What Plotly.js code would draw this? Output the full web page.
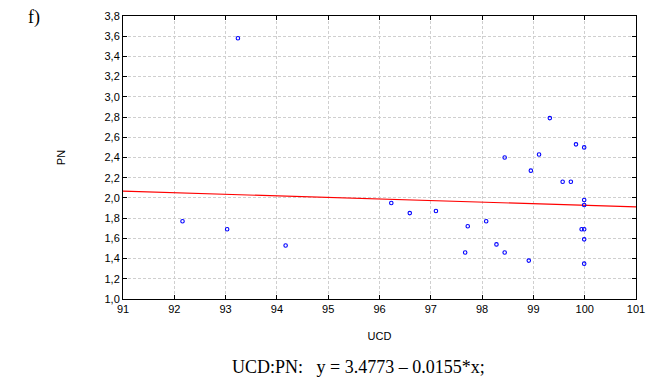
<!DOCTYPE html>
<html>
<head>
<meta charset="utf-8">
<script src="https://cdn.plot.ly/plotly-3.0.1.min.js"></script>
<style>html,body{margin:0;padding:0;background:#fff;}#chart{width:662px;height:382px;}</style>
</head>
<body>
<div id="chart"></div>
<script>
const ucd = [92.16, 93.03, 94.17, 93.24, 99.32, 99.83, 99.99, 98.44, 99.11, 98.95, 99.57, 99.73, 99.99, 99.99, 96.23, 96.59, 97.10, 97.72, 98.08, 97.67, 98.28, 98.44, 98.91, 99.94, 99.99, 99.99, 99.99];
const pn  = [1.77, 1.69, 1.53, 3.58, 2.79, 2.53, 2.50, 2.40, 2.43, 2.27, 2.16, 2.16, 1.98, 1.93, 1.95, 1.85, 1.87, 1.72, 1.77, 1.46, 1.54, 1.46, 1.38, 1.69, 1.69, 1.59, 1.35];
const intercept = 3.4773;
const slope = -0.0155;
const lineX = [91, 101];
const lineY = lineX.map(x => intercept + slope * x);
const xTicks = [91, 92, 93, 94, 95, 96, 97, 98, 99, 100, 101];
const yTicks = [1.0, 1.2, 1.4, 1.6, 1.8, 2.0, 2.2, 2.4, 2.6, 2.8, 3.0, 3.2, 3.4, 3.6, 3.8];

const traces = [
  {x: lineX, y: lineY, mode: 'lines', line: {color: '#ff0000', width: 1.2}, hoverinfo: 'skip'},
  {x: ucd, y: pn, mode: 'markers', marker: {symbol: 'circle-open', size: 3.5, color: '#0000ff', line: {width: 1.1, color: '#0000ff'}}}
];

const axisCommon = {
  showline: true, linecolor: '#000', linewidth: 1, mirror: 'ticks',
  ticks: 'inside', ticklen: 4, tickcolor: '#000',
  showgrid: true, gridcolor: '#cfcfcf', griddash: '3px,2px', gridwidth: 1,
  zeroline: false,
  tickfont: {family: 'Liberation Sans, Arial, sans-serif', size: 11, color: '#000'}
};

const layout = {
  width: 662, height: 382,
  margin: {l: 123, r: 26, t: 16, b: 83},
  paper_bgcolor: '#fff', plot_bgcolor: '#fff',
  showlegend: false,
  separators: ',.',
  xaxis: Object.assign({}, axisCommon, {
    range: [91, 101], tickvals: xTicks, ticktext: xTicks.map(String),
    title: {text: 'UCD', font: {family: 'Liberation Sans, Arial, sans-serif', size: 11, color: '#000'}, standoff: 18}
  }),
  yaxis: Object.assign({}, axisCommon, {
    range: [1.0, 3.8], tickvals: yTicks, tickformat: '.1f',
    title: {text: 'PN', font: {family: 'Liberation Sans, Arial, sans-serif', size: 11, color: '#000'}, standoff: 36}
  }),
  annotations: [
    {text: 'f)', xref: 'paper', yref: 'paper', x: -0.19, y: 1.04, xanchor: 'left', yanchor: 'top', showarrow: false,
     font: {family: 'Liberation Serif, Times New Roman, serif', size: 18, color: '#000'}},
    {text: 'UCD:PN:&nbsp;&nbsp;&nbsp;y = 3.4773 \u2013 0.0155*x;', xref: 'paper', yref: 'paper', x: 0.46, y: -0.198, xanchor: 'center', yanchor: 'top', showarrow: false,
     font: {family: 'Liberation Serif, Times New Roman, serif', size: 18, color: '#000'}}
  ]
};

Plotly.newPlot('chart', traces, layout, {displayModeBar: false, staticPlot: true});
</script>
</body>
</html>
